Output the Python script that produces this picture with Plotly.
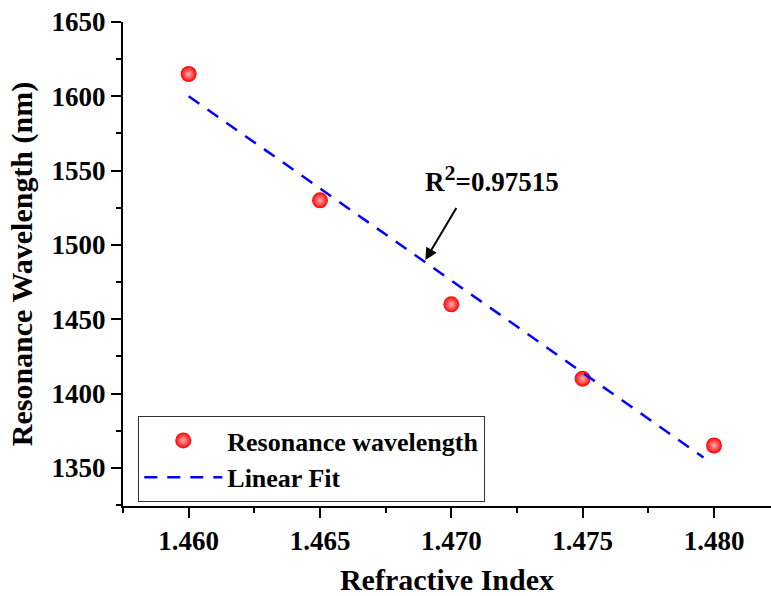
import plotly.graph_objects as go

# Data
ri = [1.460, 1.465, 1.470, 1.475, 1.480]
wavelength = [1615, 1530, 1460, 1410, 1365]
fit_x = [1.460, 1.4796]
fit_y = [1600, 1357]
r2_text = "R<sup><span style='font-size:22px'>2</span></sup>=0.97515"

FONT = "Liberation Serif"

fig = go.Figure()
fig.add_trace(go.Scatter(
    x=ri, y=wavelength, mode="markers", name="Resonance wavelength",
    marker=dict(size=16, color="#ff0000",
                gradient=dict(type="radial", color="#ffb0b0"),
                line=dict(width=0)),
))
fig.add_trace(go.Scatter(
    x=fit_x, y=fit_y, mode="lines", name="Linear Fit",
    line=dict(color="#0000ff", width=2.5, dash="13px,10px"),
))

axis_common = dict(
    showline=True, linecolor="black", linewidth=2,
    ticks="outside", ticklen=10, tickwidth=2, tickcolor="black",
    showgrid=False, zeroline=False,
    tickfont=dict(family=FONT, size=27, color="black", weight="bold"),
)

fig.update_xaxes(
    **axis_common,
    range=[1.4575, 1.48217], dtick=0.005, tick0=1.46, tickformat=".3f",
    minor=dict(ticks="outside", ticklen=5, tickwidth=2, tickcolor="black", dtick=0.0025, tick0=1.46),
    title=dict(text="Refractive Index", font=dict(family=FONT, size=30, color="black", weight="bold"), standoff=14),
)
fig.update_yaxes(
    **axis_common,
    range=[1324.3, 1650], dtick=50, tick0=1350,
    minor=dict(ticks="outside", ticklen=5, tickwidth=2, tickcolor="black", dtick=25, tick0=1350),
    title=dict(text="Resonance Wavelength (nm)", font=dict(family=FONT, size=30, color="black", weight="bold"), standoff=10),
)

fig.add_annotation(
    x=1.46901, y=1489.8, xref="x", yref="y", text=" ",
    showarrow=True, ax=34, ay=-57, axref="pixel", ayref="pixel",
    arrowhead=2, arrowsize=1.2, arrowwidth=2, arrowcolor="black",
)
fig.add_annotation(
    x=1.47156, y=1545, xref="x", yref="y", text=r2_text, showarrow=False,
    font=dict(family=FONT, size=27, color="black", weight="bold"),
)

fig.update_layout(
    width=771, height=596,
    margin=dict(l=123, r=0, t=22, b=90),
    paper_bgcolor="white", plot_bgcolor="white",
    showlegend=True,
    legend=dict(
        x=0.0236, y=0.186, xanchor="left", yanchor="top",
        bordercolor="#333333", borderwidth=1, bgcolor="white",
        font=dict(family=FONT, size=26, color="black", weight="bold"),
        itemwidth=78, tracegroupgap=0,
    ),
)

fig.write_html("out.html")
